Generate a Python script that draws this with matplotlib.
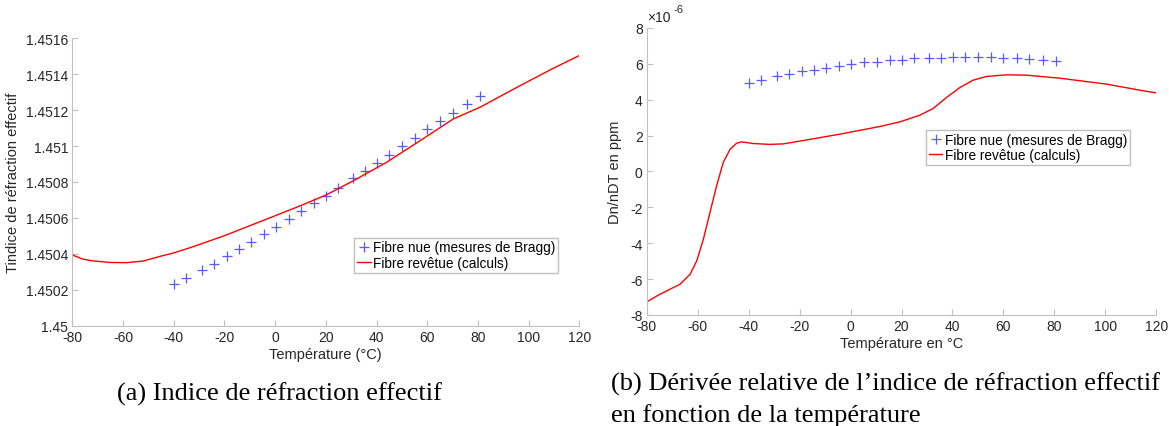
import numpy as np
import matplotlib
matplotlib.use("Agg")
import matplotlib.pyplot as plt

plt.rcParams['font.family'] = ['Liberation Sans', 'DejaVu Sans']
plt.rcParams['axes.unicode_minus'] = False

# Bragg measurements (bare fibre) - same temperatures on both plots
t_bragg = [-40, -35, -29, -24, -19, -14.4, -9.5, -4.5, 0.3, 5.3, 10.4, 15.3, 20,
           24.8, 30.7, 35.3, 40.3, 45.1, 50.1, 55, 60, 65.2, 70.2, 75.6, 80.7]
n_bragg = [1.45023, 1.450267, 1.450309, 1.450346, 1.450387, 1.450426, 1.450467,
           1.450509, 1.45055, 1.450594, 1.450639, 1.450681, 1.450724, 1.450767,
           1.450824, 1.45086, 1.450908, 1.450952, 1.450999, 1.451045, 1.451095,
           1.451141, 1.451186, 1.451234, 1.451281]
dndt_bragg = [4.96, 5.11, 5.30, 5.44, 5.58, 5.67, 5.78, 5.89, 5.98, 6.08, 6.13,
              6.20, 6.24, 6.30, 6.35, 6.35, 6.39, 6.39, 6.39, 6.37, 6.35, 6.33,
              6.28, 6.23, 6.16]  # x 1e-6

# coated fibre (calculations)
t_calc_n = [-80, -75.9, -72.6, -65, -58.5, -52, -45.4, -40, -32.3, -20, -9.9, 0,
            10, 20, 30.9, 44, 57.2, 70.3, 80.8, 96.6, 109.7, 120]
n_calc = [1.450394, 1.450371, 1.450362, 1.450352, 1.450351, 1.45036, 1.450386,
          1.450405, 1.45044, 1.450501, 1.450557, 1.450612, 1.450668,
          1.450727, 1.450807, 1.45091, 1.45103, 1.451151, 1.451216, 1.451336,
          1.451433, 1.451504]

t_calc_d = [-80, -74.8, -69.6, -67.0, -63.0, -60.4, -57.8, -55.2, -52.6, -50.0,
            -47.3, -44.7, -42.8, -38.2, -31.6, -26.4, -17.2, -4.2, 11.5, 19.4,
            27.2, 32.4, 37.7, 42.9, 48.1, 53.4, 61.2, 69.1, 82.2, 100.5, 113.6, 120]
dndt_calc = [-7.27, -6.84, -6.47, -6.29, -5.73, -4.98, -3.78, -2.29, -0.80, 0.50,
             1.24, 1.58, 1.65, 1.56, 1.51, 1.54, 1.76, 2.08, 2.51, 2.77,
             3.14, 3.51, 4.13, 4.68, 5.09, 5.30, 5.39, 5.37, 5.20, 4.87, 4.53, 4.38]

blue = '#5a5aff'
grey = '#c0c0c0'
txt = '#262626'

fig = plt.figure(figsize=(11.69, 4.27), dpi=100)
ax1 = fig.add_axes([0.0618, 0.2349, 0.4338, 0.6731])
ax2 = fig.add_axes([0.5533, 0.26, 0.4358, 0.6721])


def style(ax):
    for s in ['top', 'right']:
        ax.spines[s].set_visible(False)
    for s in ['left', 'bottom']:
        ax.spines[s].set_color(grey)
    ax.tick_params(direction='in', length=4, color=grey, labelcolor=txt,
                   labelsize=10, pad=3)
    ax.set_xlim(-80, 120)
    ax.set_xticks(range(-80, 121, 20))


leg_kw = dict(loc='upper left', fontsize=9.8, handlelength=1.0, handletextpad=0.2,
              borderpad=0.2, labelspacing=0.1, fancybox=False, edgecolor=grey,
              framealpha=1, borderaxespad=0)

# (a)
ax1.plot(t_bragg, n_bragg, '+', color=blue, ms=7, mew=0.9,
         label='Fibre nue (mesures de Bragg)')
ax1.plot(t_calc_n, n_calc, '-', color='red', lw=1, label='Fibre revêtue (calculs)')
style(ax1)
ax1.set_ylim(1.45, 1.4516)
yt = np.arange(0, 9) * 0.0002 + 1.45
ax1.set_yticks(yt)
ax1.set_yticklabels(['%g' % round(v, 4) for v in yt])
ax1.set_xlabel('Température (°C)', fontsize=10.5, color=txt, labelpad=2)
ax1.set_ylabel('Tindice de réfraction effectif', fontsize=10.5, color=txt, labelpad=4)
ax1.legend(bbox_to_anchor=(0.556, 0.306), **leg_kw)

# (b)
ax2.plot(t_bragg, dndt_bragg, '+', color=blue, ms=7, mew=0.9,
         label='Fibre nue (mesures de Bragg)')
ax2.plot(t_calc_d, dndt_calc, '-', color='red', lw=1, label='Fibre revêtue (calculs)')
style(ax2)
ax2.set_ylim(-8, 8)
ax2.set_yticks(range(-8, 9, 2))
ax2.text(0.0, 1.015, '×10', transform=ax2.transAxes, fontsize=10,
         color=txt, ha='left', va='bottom')
ax2.text(0.052, 1.05, '-6', transform=ax2.transAxes, fontsize=8,
         color=txt, ha='left', va='bottom')
ax2.set_xlabel('Température en °C', fontsize=10.5, color=txt, labelpad=2)
ax2.set_ylabel('Dn/nDT en ppm', fontsize=10.5, color=txt, labelpad=6)
ax2.legend(bbox_to_anchor=(0.548, 0.645), **leg_kw)

# captions
fig.text(0.239, 1 - 394 / 427, '(a) Indice de réfraction effectif',
         family='Liberation Serif', fontsize=19, ha='center', va='center')
fig.text(0.523, 1 - 400 / 427,
         '(b) Dérivée relative de l’indice de réfraction effectif\n'
         'en fonction de la température',
         family='Liberation Serif', fontsize=19, ha='left', va='center',
         linespacing=1.47)

fig.savefig('out.png', dpi=100)
